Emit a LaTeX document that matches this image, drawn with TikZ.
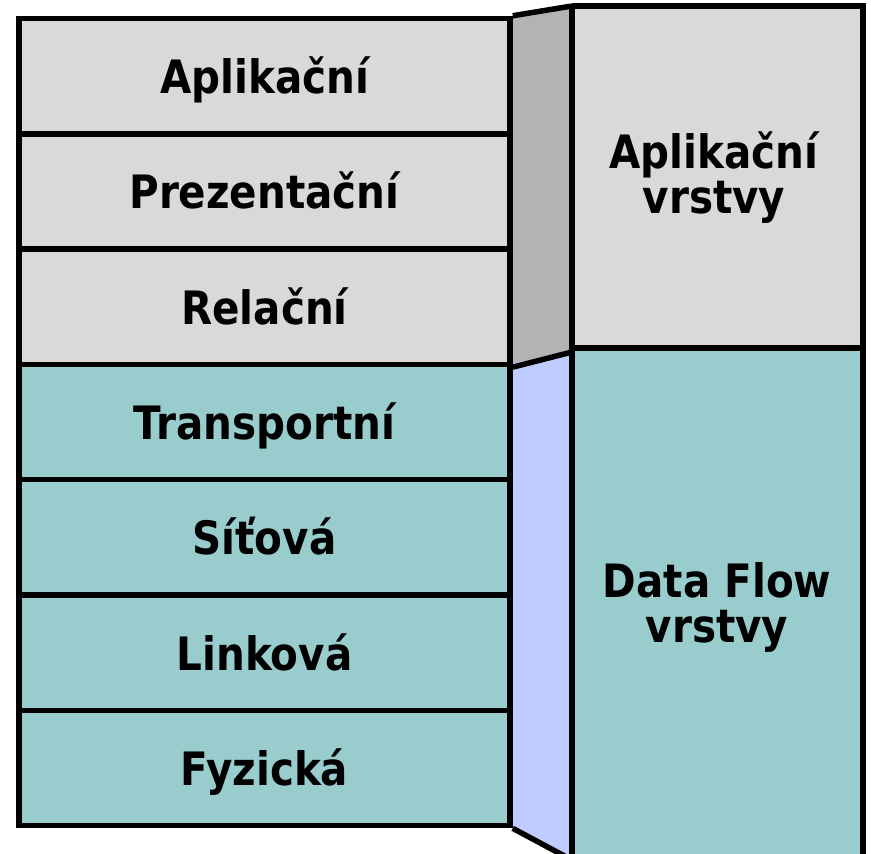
\documentclass[tikz,border=0pt]{standalone}
\usepackage{fontspec}
\setmainfont{DejaVu Sans}
\newfontfamily\lblfont[FakeStretch=0.88]{DejaVu Sans}
\begin{document}
\begin{tikzpicture}[x=1pt,y=-1pt,line join=miter]
\definecolor{lgray}{RGB}{217,217,217}
\definecolor{teal1}{RGB}{153,204,204}
\definecolor{sgray}{RGB}{179,179,179}
\definecolor{sblue}{RGB}{192,204,255}
\tikzset{
  border/.style={line width=5.5pt},
  layer/.style={draw, border, rectangle, minimum width=491pt, minimum height=115.3pt,
    inner sep=0pt},
  lbl/.style={anchor=base, inner sep=0pt, font=\lblfont\fontsize{46}{45}\selectfont\bfseries},
  grouptext/.style={align=center, inner sep=0pt, font=\lblfont\fontsize{46}{45}\selectfont\bfseries}
}
\useasboundingbox (0,0) rectangle (871,854);
% right column
\fill[lgray] (572,6) rectangle (863,348);
\fill[teal1] (572,348) rectangle (863,860);
% middle strip
\fill[sgray] (510,18.5) -- (572,6) -- (572,352) -- (510,364) -- cycle;
\fill[sblue] (510,364) -- (572,352) -- (572,860) -- (510,825.5) -- cycle;
% left layers
\node[layer, fill=lgray] (l7) at (264.5,76.15) {};
\node[layer, fill=lgray] (l6) at (264.5,191.45) {};
\node[layer, fill=lgray] (l5) at (264.5,306.75) {};
\node[layer, fill=teal1] (l4) at (264.5,422.05) {};
\node[layer, fill=teal1] (l3) at (264.5,537.35) {};
\node[layer, fill=teal1] (l2) at (264.5,652.65) {};
\node[layer, fill=teal1] (l1) at (264.5,767.95) {};
\node[lbl] (t7) at ([yshift=-17.5pt]l7.center) {Aplikační};
\node[lbl] (t6) at ([yshift=-17.5pt]l6.center) {Prezentační};
\node[lbl] (t5) at ([yshift=-17.5pt]l5.center) {Relační};
\node[lbl] (t4) at ([yshift=-17.5pt]l4.center) {Transportní};
\node[lbl] (t3) at ([yshift=-17.5pt]l3.center) {Síťová};
\node[lbl] (t2) at ([yshift=-17.5pt]l2.center) {Linková};
\node[lbl] (t1) at ([yshift=-17.5pt]l1.center) {Fyzická};
% strip and right column outlines
\coordinate (st) at (572,6);
\coordinate (sm) at (572,352);
\coordinate (sb) at (572,860);
\draw[border] (l7.north east) -- (st);
\draw[border] (l5.south east) -- (sm);
\draw[border] (l1.south east) -- (sb);
\draw[border] (572,6) -- (572,860);
\draw[border] (572,6) -- (863,6) -- (863,860);
\draw[border] (572,348) -- (863,348);
% group labels
\node[grouptext, anchor=base] (g1) at (714,213) {Aplikační\\vrstvy};
\node[grouptext, anchor=base] (g2) at (717,642) {Data Flow\\vrstvy};
\end{tikzpicture}
\end{document}
